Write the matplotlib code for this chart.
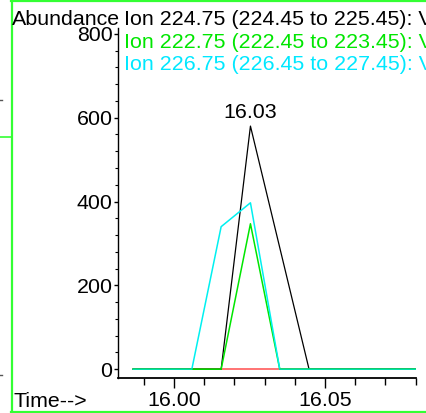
import numpy as np
import matplotlib
matplotlib.use('Agg')
import matplotlib.pyplot as plt
from matplotlib.ticker import MultipleLocator

# === Data (scan times in min, abundance) ===
times = [15.9865, 15.9962, 16.0059, 16.0156, 16.0253, 16.0350,
         16.0447, 16.0544, 16.0641, 16.0738, 16.0835]
ion_224 = [0, 0, 0, 0, 580, 290, 0, 0, 0, 0, 0]
ion_222 = [0, 0, 0, 0, 347, 0, 0, 0, 0, 0, 0]
ion_226 = [0, 0, 0, 340, 397, 0, 0, 0, 0, 0, 0]
ion_other = [0, 0, 0, 0, 0, 0, 0, 0, 0, 0, 0]

legend_lines = [
    ('Ion 224.75 (224.45 to 225.45): V', 'black'),
    ('Ion 222.75 (222.45 to 223.45): V', '#00e600'),
    ('Ion 226.75 (226.45 to 227.45): V', '#00e8ff'),
]
peak_label = '16.03'

plt.rcParams['font.family'] = ['Liberation Sans', 'DejaVu Sans']
FS = 15.4

fig = plt.figure(figsize=(4.26, 4.13), dpi=100)
ax = fig.add_axes([118 / 426, 35 / 413, 298 / 426, 350 / 413])

ax.plot(times, ion_other, color='#ff4d4d', lw=1.1, zorder=1)
ax.plot(times, ion_224, color='black', lw=0.9, zorder=2)
ax.plot(times, ion_222, color='#00e600', lw=1.1, zorder=3)
ax.plot(times, ion_226, color='#00f0f0', lw=1.1, zorder=4)
# baseline blend where green sits under cyan
g = np.array(ion_222, dtype=float)
ax.plot(times, np.where(g == 0, g, np.nan), color='#00c000', lw=1.1,
        alpha=0.35, zorder=5)

# peak label
ipk = int(np.argmax(ion_224))
ax.annotate(peak_label, (times[ipk], ion_224[ipk]), xytext=(0, 3),
            textcoords='offset points', ha='center', va='bottom',
            fontsize=FS)

ax.set_xlim(15.98146, 16.0801)
ax.set_ylim(-21, 814)
ax.set_xticks([16.00, 16.05])
ax.set_xticklabels(['16.00', '16.05'])
ax.xaxis.set_minor_locator(MultipleLocator(0.01))
ax.set_yticks([0, 200, 400, 600, 800])
ax.yaxis.set_minor_locator(MultipleLocator(40))

for s in ['top', 'right']:
    ax.spines[s].set_visible(False)
ax.spines['left'].set_linewidth(1.0)
ax.spines['bottom'].set_linewidth(1.3)

ax.tick_params(axis='x', which='major', length=7, width=1, labelsize=FS, pad=2)
ax.tick_params(axis='x', which='minor', length=5, width=1)
ax.tick_params(axis='y', which='major', length=3, width=1, labelsize=FS, pad=1)
ax.tick_params(axis='y', which='minor', length=2, width=0.8)

# header / footer text
fig.text(12 / 426, 1 - 25 / 413, 'Abundance', fontsize=FS, va='baseline')
fig.text(13 / 426, 1 - 407 / 413, 'Time-->', fontsize=FS, va='baseline')
for i, (txt, col) in enumerate(legend_lines):
    fig.text(124 / 426, 1 - (25 + 22.5 * i) / 413, txt, fontsize=FS,
             color=col, va='baseline')

# window frame (green)
frame = '#33ff33'
fig.add_artist(plt.Line2D([11.5 / 426] * 2, [0, 1], color=frame, lw=1.6,
                          transform=fig.transFigure))
fig.add_artist(plt.Line2D([11 / 426, 1], [1 - 1 / 413] * 2, color=frame, lw=1.6,
                          transform=fig.transFigure))
fig.add_artist(plt.Line2D([11 / 426, 1], [1 - 411.5 / 413] * 2, color=frame,
                          lw=1.6, transform=fig.transFigure))
fig.add_artist(plt.Line2D([0, 11 / 426], [1 - 137 / 413] * 2, color=frame, lw=1.2,
                          transform=fig.transFigure))
# small marks on the left edge
for yy in (100, 375):
    fig.add_artist(plt.Line2D([0, 1.5 / 426], [1 - yy / 413] * 2, color='#555555',
                              lw=1, transform=fig.transFigure))

fig.savefig('out.png', dpi=100)
